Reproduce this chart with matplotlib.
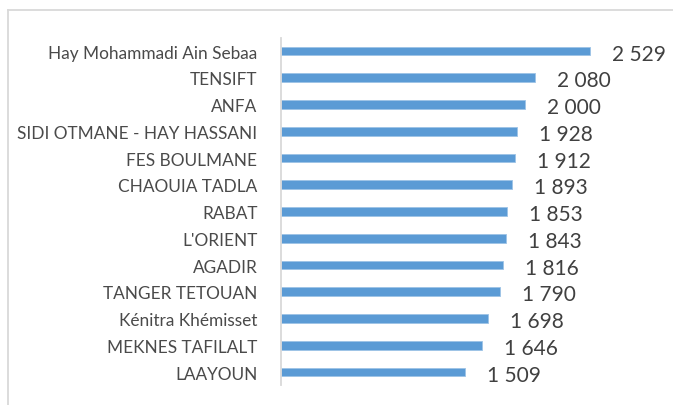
import matplotlib.pyplot as plt
from matplotlib.lines import Line2D

# regions and their values (top to bottom)
regions = ["Hay Mohammadi Ain Sebaa", "TENSIFT", "ANFA", "SIDI OTMANE - HAY HASSANI",
           "FES BOULMANE", "CHAOUIA TADLA", "RABAT", "L'ORIENT", "AGADIR",
           "TANGER TETOUAN", "Kénitra Khémisset", "MEKNES TAFILALT", "LAAYOUN"]
values = [2529, 2080, 2000, 1928, 1912, 1893, 1853, 1843, 1816, 1790, 1698, 1646, 1509]

plt.rcParams['font.family'] = ['Lato', 'DejaVu Sans']

W, H = 673, 406
fig = plt.figure(figsize=(W / 100, H / 100), dpi=100)

# outer chart border (left and top visible)
fig.add_artist(Line2D([8 / W, 8 / W], [0, 1 - 11 / H], color="#D9D9D9", lw=1.3))
fig.add_artist(Line2D([8 / W, 1], [1 - 11 / H, 1 - 11 / H], color="#D9D9D9", lw=1.3))

ax = fig.add_axes([281 / W, 1 - 386.4 / H, (662 - 281) / W, 347.75 / H])

pos = list(range(len(regions)))
ax.barh(pos, values, height=0.33, color="#5B9BD5", edgecolor="#9DC3E6", linewidth=0.6)
ax.set_ylim(len(regions) - 0.5, -0.5)
ax.set_xlim(0, (662 - 281) / 0.1222)

ax.set_yticks(pos)
ax.set_yticklabels(regions, fontsize=12.4, color="#4a4a4a")
ax.tick_params(axis="y", length=0, pad=17)
ax.set_xticks([])

for s in ["top", "right", "bottom"]:
    ax.spines[s].set_visible(False)
ax.spines["left"].set_color("#D9D9D9")
ax.spines["left"].set_linewidth(1.3)

for i, v in enumerate(values):
    txt = f"{v:,}".replace(",", " ")
    ax.text(v + 180, i + 0.1, txt, va="center", ha="left", fontsize=15, color="#404040")

fig.savefig("out.png", dpi=100)
